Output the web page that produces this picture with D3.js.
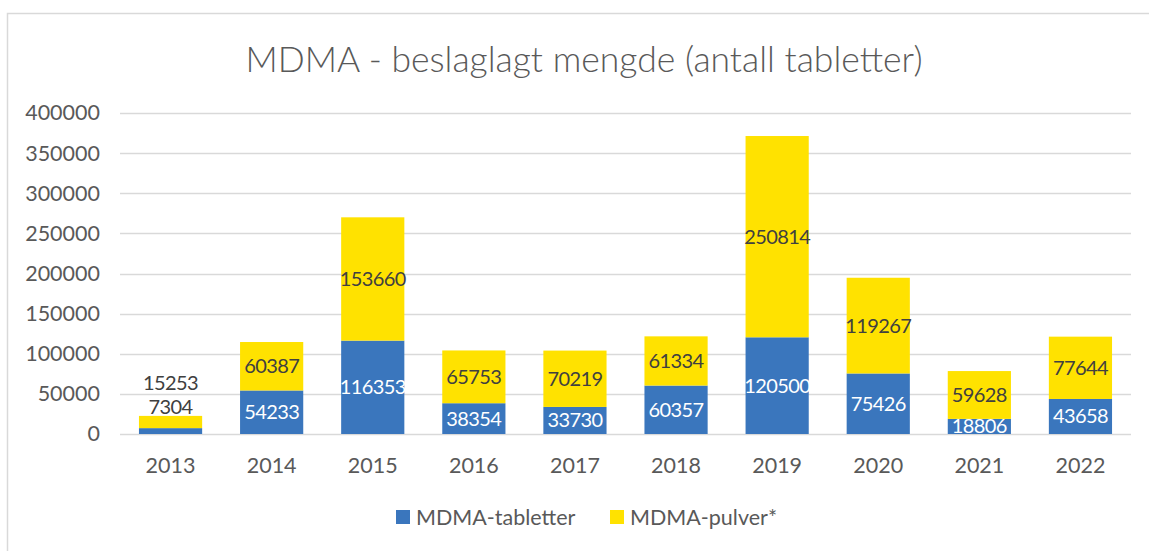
<!DOCTYPE html>
<html><head><meta charset="utf-8">
<script src="https://cdn.jsdelivr.net/npm/d3@7"></script>
<style>body{margin:0;background:#fff}svg{display:block}</style>
</head><body>
<svg id="c" width="1149" height="551"></svg>
<script>
const years = ["2013","2014","2015","2016","2017","2018","2019","2020","2021","2022"];
const tabletter = [7304,54233,116353,38354,33730,60357,120500,75426,18806,43658];
const pulver = [15253,60387,153660,65753,70219,61334,250814,119267,59628,77644];
const seriesNames = ["MDMA-tabletter","MDMA-pulver*"];
const yTicks = [0,50000,100000,150000,200000,250000,300000,350000,400000];
const colors = ["#3A76BD","#FFE200"];
const font = "Lato, 'Open Sans', sans-serif";
const fs = 21.5;
const lfs = 20;

const svg = d3.select("#c");
svg.append("rect").attr("x",7.5).attr("y",13.5).attr("width",1160).attr("height",560)
  .attr("fill","#fff").attr("stroke","#d9d9d9").attr("stroke-width",1.5);

const x = d3.scaleBand().domain(years).range([120,1131]).paddingInner(0.375).paddingOuter(0.1875);
const y = d3.scaleLinear().domain([0,400000]).range([434,113]);

svg.append("text").attr("x",584).attr("y",72).attr("text-anchor","middle")
  .attr("font-family",font).attr("font-weight",300).attr("font-size",35.5).attr("fill","#595959")
  .text("MDMA - beslaglagt mengde (antall tabletter)");

// grid
svg.append("g").selectAll("line").data(yTicks).join("line")
  .attr("x1",120).attr("x2",1131).attr("y1",d=>Math.round(y(d))+0.5).attr("y2",d=>Math.round(y(d))+0.5)
  .attr("stroke","#d9d9d9").attr("stroke-width",1.5);

const yAxis = svg.append("g").attr("transform","translate(108,0)")
  .call(d3.axisLeft(y).tickValues(yTicks).tickSize(0).tickPadding(8).tickFormat(d=>String(d)));
yAxis.select(".domain").remove();
yAxis.selectAll("text").attr("font-family",font).attr("font-size",fs).attr("fill","#595959");

const xAxis = svg.append("g").attr("transform","translate(0,434)")
  .call(d3.axisBottom(x).tickSize(0).tickPadding(24));
xAxis.select(".domain").remove();
xAxis.selectAll("text").attr("font-family",font).attr("font-size",fs).attr("fill","#595959");

const rows = years.map((yr,i)=>({year:yr,t:tabletter[i],p:pulver[i]}));
const stack = d3.stack().keys(["t","p"])(rows);

const g = svg.append("g");
stack.forEach((s,si)=>{
  g.append("g").selectAll("rect").data(s).join("rect")
    .attr("x",d=>x(d.data.year)).attr("width",x.bandwidth())
    .attr("y",d=>y(d[1])).attr("height",d=>y(d[0])-y(d[1]))
    .attr("fill",colors[si]);
});

// labels
const isSmall = i => (y(stack[0][i][0])-y(stack[1][i][1]))<40;
stack.forEach((s,si)=>{
  g.append("g").selectAll("text").data(s).join("text")
    .attr("x",d=>x(d.data.year)+x.bandwidth()/2)
    .attr("y",(d,i)=>{
      if(isSmall(i)){ const top=y(stack[1][i][1]); return si===0? top-9 : top-33; }
      return (y(d[0])+y(d[1]))/2;
    })
    .attr("dy","0.35em").attr("text-anchor","middle")
    .attr("font-family",font).attr("font-size",lfs).attr("letter-spacing",-0.6)
    .attr("fill",(d,i)=> (si===0 && !isSmall(i))?"#ffffff":"#404040")
    .text(d=>d[1]-d[0]);
});

// legend
const lg = svg.append("g");
const items=[{x:396,c:colors[0],t:seriesNames[0]},{x:610,c:colors[1],t:seriesNames[1]}];
items.forEach(it=>{
  lg.append("rect").attr("x",it.x).attr("y",510).attr("width",14).attr("height",14).attr("fill",it.c);
  lg.append("text").attr("x",it.x+20).attr("y",517).attr("dy","0.35em")
    .attr("font-family",font).attr("font-size",fs).attr("fill","#595959").text(it.t);
});
</script>
</body></html>
